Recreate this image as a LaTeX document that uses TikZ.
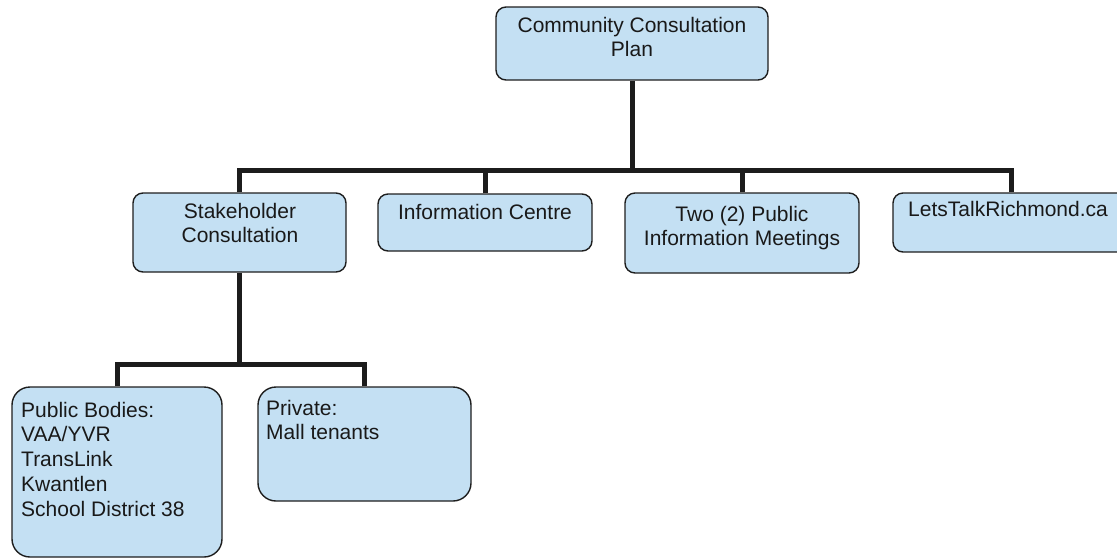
\documentclass[tikz,border=0pt]{standalone}
\usepackage{fontspec}
\setmainfont{Liberation Sans}
\definecolor{boxfill}{RGB}{196,224,243}
\definecolor{boxline}{RGB}{30,30,30}
\definecolor{txt}{RGB}{25,25,25}
\definecolor{conncol}{RGB}{28,28,28}
\begin{document}
\begin{tikzpicture}[x=1pt,y=-1pt,
  box/.style={draw=boxline, fill=boxfill, line width=1.4pt, rounded corners=10pt, inner sep=0pt},
  bigbox/.style={box, rounded corners=18pt},
  conn/.style={line width=5pt, draw=conncol},
  lbl/.style={font=\fontsize{21}{24}\selectfont, text=txt, inner sep=0pt},
  lblb/.style={font=\fontsize{21}{24.75}\selectfont, text=txt, inner sep=0pt}
]
\useasboundingbox (0,0) rectangle (1117,558);

% boxes
\node[box, minimum width=272pt, minimum height=73pt] (plan) at (632,43.5) {};
\node[box, minimum width=213pt, minimum height=79pt] (stake) at (239.5,232.5) {};
\node[box, minimum width=214pt, minimum height=57pt] (info) at (485,222.5) {};
\node[box, minimum width=234pt, minimum height=80pt] (two) at (742,233) {};
\node[box, minimum width=237pt, minimum height=59pt] (lets) at (1011.5,222.5) {};
\node[bigbox, minimum width=210pt, minimum height=170pt] (pub) at (117,472) {};
\node[bigbox, minimum width=213pt, minimum height=114pt] (priv) at (364.5,444) {};

% texts
\node[lbl, anchor=base] (plant) at (632,32) {\begin{tabular}[t]{@{}c@{}}Community Consultation\\Plan\end{tabular}};
\node[lbl, anchor=base] (staket) at (240,218) {\begin{tabular}[t]{@{}c@{}}Stakeholder\\Consultation\end{tabular}};
\node[lbl, anchor=base] (infot) at (485,219) {Information Centre};
\node[lbl, anchor=base] (twot) at (742,221) {\begin{tabular}[t]{@{}c@{}}Two (2) Public\\Information Meetings\end{tabular}};
\node[lbl, anchor=base west] (letst) at (908,216) {LetsTalkRichmond.ca};
\node[lblb, anchor=base west] (pubt) at (21,417) {\begin{tabular}[t]{@{}l@{}}Public Bodies:\\VAA/YVR\\TransLink\\Kwantlen\\School District 38\end{tabular}};
\node[lbl, anchor=base west] (privt) at (266,415) {\begin{tabular}[t]{@{}l@{}}Private:\\Mall tenants\end{tabular}};

% connectors
\coordinate (y1) at (0,170);
\coordinate (y2) at (0,364);
\coordinate (bus1) at (plan.south |- y1);
\coordinate (bus2) at (stake.south |- y2);
\draw[conn] (plan.south) -- (bus1);
\foreach \n in {stake,info,two,lets} \draw[conn] (\n.north) |- (bus1);
\draw[conn] (stake.south) -- (bus2);
\foreach \n in {pub,priv} \draw[conn] (\n.north) |- (bus2);
\end{tikzpicture}
\end{document}
